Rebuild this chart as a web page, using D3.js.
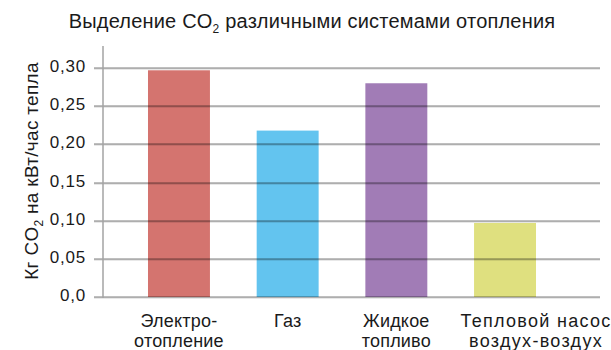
<!DOCTYPE html>
<html>
<head>
<meta charset="utf-8">
<script src="https://cdn.jsdelivr.net/npm/d3@7"></script>
<style>
    body { margin: 0; background: #fff; }
    text { font-family: "Liberation Sans", Arial, sans-serif; fill: #1a1a1a; }
</style>
</head>
<body>
<div id="chart"></div>
<script>
'use strict';

const categories = [
    ['Электро-', 'отопление'],
    ['Газ'],
    ['Жидкое', 'топливо'],
    ['Тепловой насос', 'воздух-воздух']
];
const values = [0.297, 0.218, 0.280, 0.097];
const colors = ['#d4746f', '#63c4ef', '#a17cb6', '#dfe07f'];
const yTicks = [0, 0.05, 0.10, 0.15, 0.20, 0.25, 0.30];
const yTickLabels = ['0,0', '0,05', '0,10', '0,15', '0,20', '0,25', '0,30'];

const width = 611, height = 350;
const axisX = 103, gridRight = 600;

const svg = d3.select('#chart')
    .append('svg')
    .attr('width', width)
    .attr('height', height);

const x = d3.scaleBand()
    .domain(d3.range(categories.length))
    .range([axisX, 581])
    .paddingInner(0.43)
    .paddingOuter(0.414);

const y = d3.scaleLinear()
    .domain([0, 0.30])
    .range([297, 68]);

// bars
svg.append('g')
    .selectAll('rect')
    .data(values)
    .join('rect')
    .attr('x', (d, i) => x(i))
    .attr('y', d => y(d))
    .attr('width', x.bandwidth())
    .attr('height', d => y(0) - y(d))
    .style('fill', (d, i) => colors[i]);

// grid lines on top of the bars
const grid = svg.append('g');
grid.selectAll('line.shade')
    .data(yTicks)
    .join('line')
    .classed('shade', true)
    .attr('x1', 94).attr('x2', gridRight)
    .attr('y1', d => Math.round(y(d)) + 1)
    .attr('y2', d => Math.round(y(d)) + 1)
    .style('stroke', 'rgba(0,0,0,0.18)');
grid.selectAll('line.main')
    .data(yTicks)
    .join('line')
    .classed('main', true)
    .attr('x1', 94).attr('x2', gridRight)
    .attr('y1', d => Math.round(y(d)))
    .attr('y2', d => Math.round(y(d)))
    .style('stroke', 'rgba(0,0,0,0.5)');

// y axis line
svg.append('line')
    .attr('x1', axisX).attr('x2', axisX)
    .attr('y1', 46).attr('y2', 298)
    .style('stroke', '#a3a3a3')
    .style('stroke-width', 1.5);

// y tick labels
svg.append('g')
    .selectAll('text')
    .data(yTicks)
    .join('text')
    .attr('x', 86)
    .attr('y', d => y(d) + 4)
    .attr('text-anchor', 'end')
    .style('font-size', '17px')
    .style('letter-spacing', '0.8px')
    .text((d, i) => yTickLabels[i]);

// category labels (the last one is set wider and pushed right, like the original)
const last = categories.length - 1;
const cats = svg.append('g')
    .selectAll('text')
    .data(categories)
    .join('text')
    .attr('text-anchor', 'middle')
    .style('font-size', '18px')
    .style('letter-spacing', (d, i) => i === last ? '1.3px' : '0.2px');
cats.selectAll('tspan')
    .data((d, i) => d.map(s => ({ s, i })))
    .join('tspan')
    .attr('x', d => x(d.i) + x.bandwidth() / 2 + (d.i === last ? 31 : 0))
    .attr('y', (d, j) => 327 + j * 20)
    .text(d => d.s);

// title
const title = svg.append('text')
    .attr('x', 312)
    .attr('y', 28)
    .attr('text-anchor', 'middle')
    .style('font-size', '20px')
    .style('letter-spacing', '0.2px');
title.append('tspan').text('Выделение CO');
title.append('tspan').attr('dy', 5).style('font-size', '12px').text('2');
title.append('tspan').attr('dy', -5).text(' различными системами отопления');

// y axis title
const yTitle = svg.append('text')
    .attr('transform', 'translate(38,171) rotate(-90)')
    .attr('text-anchor', 'middle')
    .style('font-size', '19px')
    .style('letter-spacing', '0.3px');
yTitle.append('tspan').text('Кг CO');
yTitle.append('tspan').attr('dy', 5).style('font-size', '12px').text('2');
yTitle.append('tspan').attr('dy', -5).text(' на кВт/час тепла');
</script>
</body>
</html>
